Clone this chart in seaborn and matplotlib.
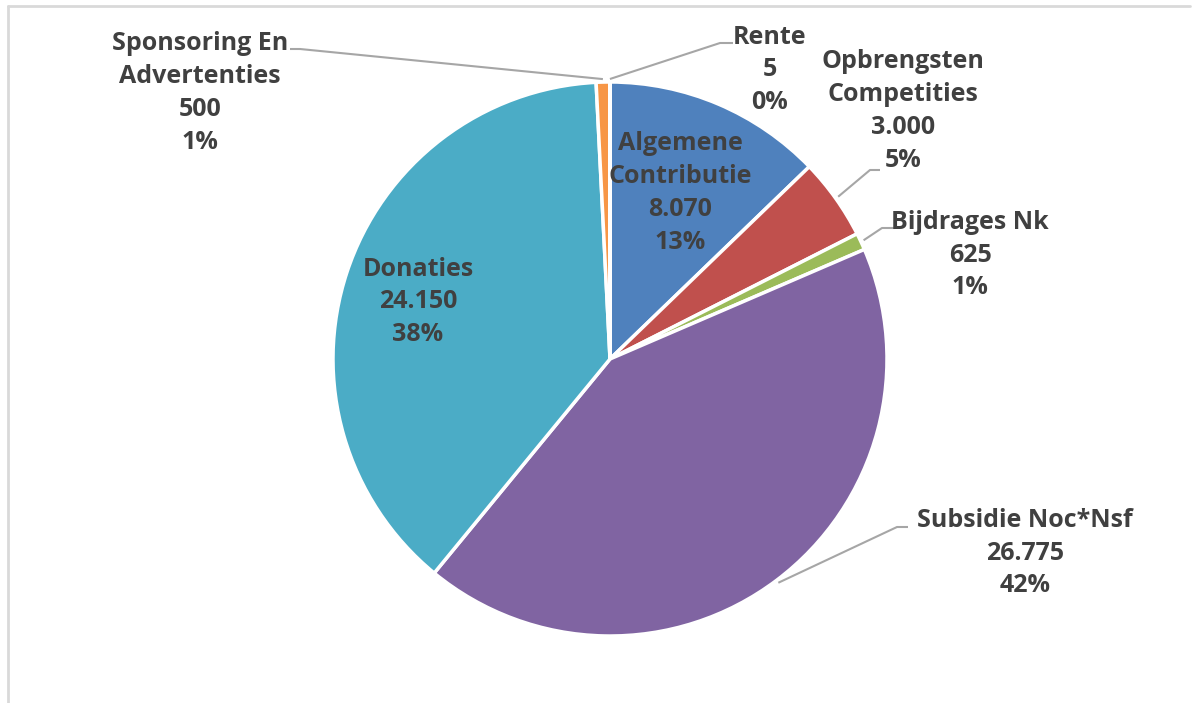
import numpy as np
import pandas as pd
import matplotlib.pyplot as plt
import seaborn as sns

# data
categories = ["Algemene\nContributie", "Opbrengsten\nCompetities", "Bijdrages Nk",
              "Subsidie Noc*Nsf", "Donaties", "Sponsoring En\nAdvertenties", "Rente"]
amounts = [8070, 3000, 625, 26775, 24150, 500, 5]
colors = ["#4F81BD", "#C0504D", "#9BBB59", "#8064A2", "#4BACC6", "#F79646", "#2C4D75"]

df = pd.DataFrame({"name": categories, "amount": amounts})
df["pct"] = df.amount / df.amount.sum() * 100

sns.set_theme(style="white")
plt.rcParams["font.family"] = ["Open Sans", "DejaVu Sans"]

W, H = 1200, 703
fig = plt.figure(figsize=(12, 7.03), dpi=100)
ax = fig.add_axes([0, 0, 1, 1])

def py(y):  # pixel row (from top) -> axis y
    return H - y

cx, cy, R = 610, 359, 277
wedges, _ = ax.pie(df.amount, colors=colors, startangle=90, counterclock=False,
                   center=(cx, py(cy)), radius=R, frame=True,
                   wedgeprops=dict(edgecolor="white", linewidth=2.5))
ax.set_xlim(0, W)
ax.set_ylim(0, H)
ax.set_aspect("equal")
ax.axis("off")

def fmt(v):
    return f"{v:,}".replace(",", ".")

# label centres (pixel coords) and leader lines (elbow, end of line)
label_pos = [(680, 193), (903, 111), (970, 255), (1025, 553), (418, 302), (200, 93), (770, 70)]
leaders = {1: [(880, 170), (870, 170)],
           2: [(895, 228), (882, 228)],
           3: [(908, 527), (897, 527)],
           5: [(290, 49), (300, 49)],
           6: [(733, 43), (720, 43)]}

txt_color = "#404040"
for i, row in df.iterrows():
    x, y = label_pos[i]
    s = f"{row['name']}\n{fmt(row['amount'])}\n{row['pct']:.0f}%"
    ax.text(x, py(y), s, ha="center", va="center", fontsize=18, fontweight="bold",
            color=txt_color, linespacing=1.42)
    if i in leaders:
        w = wedges[i]
        mid = np.deg2rad((w.theta1 + w.theta2) / 2)
        ex = cx + (R + 3) * np.cos(mid)
        ey = py(cy) + (R + 3) * np.sin(mid)
        (x0, y0), (x1, y1) = leaders[i]
        ax.plot([x0, x1, ex], [py(y0), py(y1), ey], color="#A6A6A6", lw=1.5,
                solid_capstyle="butt")

# chart frame (top and left only visible)
ax.plot([8, 1190], [py(6), py(6)], color="#D9D9D9", lw=2)
ax.plot([8, 8], [py(6), 0], color="#D9D9D9", lw=2)

fig.savefig("out.png", dpi=100)
